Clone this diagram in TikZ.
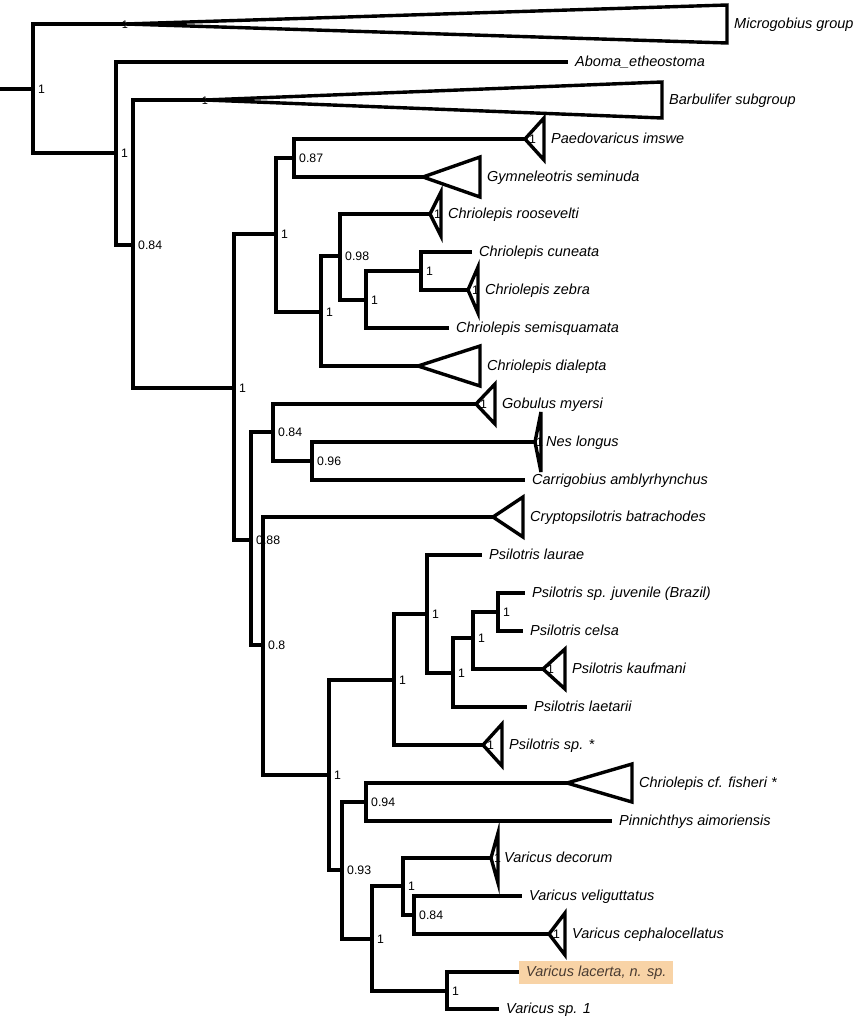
\documentclass[tikz,border=0pt]{standalone}
\usepackage{fontspec}
\setmainfont{Liberation Sans}
\usetikzlibrary{positioning}

\definecolor{lacertabox}{HTML}{F8D3A6}
\definecolor{lacertatext}{HTML}{4A3C32}

\begin{document}
\begin{tikzpicture}[x=1pt,y=-1pt]

            \tikzstyle{branch}=[line width=3.4pt,line join=miter]
            \tikzstyle{clade}=[branch,fill=white]
            \tikzstyle{taxon}=[anchor=west,inner xsep=7pt,inner ysep=0pt,text height=10pt,text depth=1pt,font=\fontsize{14.5}{16}\selectfont\itshape]
            \tikzstyle{support}=[inner sep=0pt,text height=8.8pt,text depth=0pt,font=\fontsize{12.3}{14}\selectfont]
            \tikzstyle{tiny}=[inner sep=0pt,font=\fontsize{4}{4}\selectfont]

            \useasboundingbox (0,0) rectangle (861,1024);

            % internal nodes
            \coordinate (base) at (0,89);
            \coordinate (r)   at (33,89);
            \coordinate (n1)  at (116,153);
            \coordinate (n2)  at (133,245);
            \coordinate (n4)  at (234,388);
            \coordinate (n5)  at (276,234);
            \coordinate (n6)  at (294,158);
            \coordinate (n7)  at (321,312);
            \coordinate (n8)  at (340,256);
            \coordinate (n9)  at (366,300);
            \coordinate (n10) at (421,271);
            \coordinate (n12) at (251,540);
            \coordinate (n13) at (273,432);
            \coordinate (n15) at (312,461);
            \coordinate (n14) at (263,645);
            \coordinate (n16) at (329,775);
            \coordinate (n17) at (394,680);
            \coordinate (n19) at (427,614);
            \coordinate (n20) at (453,673);
            \coordinate (n21) at (473,638);
            \coordinate (n22) at (498,612);
            \coordinate (n18) at (342,870);
            \coordinate (n23) at (366,802);
            \coordinate (n24) at (372,939);
            \coordinate (n25) at (403,886);
            \coordinate (n27) at (414,915);
            \coordinate (n26) at (447,991);

            % apex of collapsed clades
            \coordinate (microtip)  at (125,24);
            \coordinate (barbtip)   at (205,100);
            \coordinate (paedotip)  at (525,139);
            \coordinate (gymnotip)  at (423,177);
            \coordinate (roostip)   at (430,214);
            \coordinate (zebratip)  at (468,290);
            \coordinate (dialtip)   at (418,366);
            \coordinate (gobtip)    at (476,404);
            \coordinate (nestip)    at (535,442);
            \coordinate (cryptip)   at (493,517);
            \coordinate (kauftip)   at (543,669);
            \coordinate (psptip)    at (483,745);
            \coordinate (fishtip)   at (567,783);
            \coordinate (dectip)    at (491,858);
            \coordinate (cephtip)   at (549,934);

            % leaf labels
            \node[taxon] (micro)  at (727,24)  {Microgobius group};
            \node[taxon] (aboma)  at (568,62)  {Aboma\_etheostoma};
            \node[taxon] (barb)   at (662,100) {Barbulifer subgroup};
            \node[taxon] (paedo)  at (544,139) {Paedovaricus imswe};
            \node[taxon] (gymno)  at (480,177) {Gymneleotris seminuda};
            \node[taxon] (roos)   at (441,214) {Chriolepis roosevelti};
            \node[taxon] (cune)   at (472,252) {Chriolepis cuneata};
            \node[taxon] (zebra)  at (478,290) {Chriolepis zebra};
            \node[taxon] (semi)   at (449,328) {Chriolepis semisquamata};
            \node[taxon] (dial)   at (480,366) {Chriolepis dialepta};
            \node[taxon] (gob)    at (495,404) {Gobulus myersi};
            \node[taxon] (nes)    at (539,442) {Nes longus};
            \node[taxon] (carr)   at (525,480) {Carrigobius amblyrhynchus};
            \node[taxon] (cryp)   at (523,517) {Cryptopsilotris batrachodes};
            \node[taxon] (laur)   at (482,555) {Psilotris laurae};
            \node[taxon] (juv)    at (525,593) {Psilotris sp. juvenile (Brazil)};
            \node[taxon] (celsa)  at (523,631) {Psilotris celsa};
            \node[taxon] (kauf)   at (565,669) {Psilotris kaufmani};
            \node[taxon] (laet)   at (527,707) {Psilotris laetarii};
            \node[taxon] (psp)    at (502,745) {Psilotris sp. *};
            \node[taxon] (fish)   at (632,783) {Chriolepis cf. fisheri *};
            \node[taxon] (pinn)   at (612,821) {Pinnichthys aimoriensis};
            \node[taxon] (dec)    at (497,858) {Varicus decorum};
            \node[taxon] (veli)   at (522,896) {Varicus veliguttatus};
            \node[taxon] (ceph)   at (565,934) {Varicus cephalocellatus};
            \node[taxon,inner ysep=6pt,fill=lacertabox,text=lacertatext] (lac) at (519,972) {Varicus lacerta, n. sp.};
            \node[taxon] (vsp)    at (499,1009) {Varicus sp. 1};

            % branches
            \draw[branch] (base) -- (r);
            \draw[branch] (r) |- (microtip);
            \draw[branch] (r) |- (n1);
            \draw[branch] (n1) |- (aboma.west);
            \draw[branch] (n1) |- (n2);
            \draw[branch] (n2) |- (barbtip);
            \draw[branch] (n2) |- (n4);
            \draw[branch] (n4) |- (n5);
            \draw[branch] (n4) |- (n12);
            \draw[branch] (n5) |- (n6);
            \draw[branch] (n5) |- (n7);
            \draw[branch] (n6) |- (paedotip);
            \draw[branch] (n6) |- (gymnotip);
            \draw[branch] (n7) |- (n8);
            \draw[branch] (n7) |- (dialtip);
            \draw[branch] (n8) |- (roostip);
            \draw[branch] (n8) |- (n9);
            \draw[branch] (n9) |- (n10);
            \draw[branch] (n9) |- (semi.west);
            \draw[branch] (n10) |- (cune.west);
            \draw[branch] (n10) |- (zebratip);
            \draw[branch] (n12) |- (n13);
            \draw[branch] (n12) |- (n14);
            \draw[branch] (n13) |- (gobtip);
            \draw[branch] (n13) |- (n15);
            \draw[branch] (n15) |- (nestip);
            \draw[branch] (n15) |- (carr.west);
            \draw[branch] (n14) |- (cryptip);
            \draw[branch] (n14) |- (n16);
            \draw[branch] (n16) |- (n17);
            \draw[branch] (n16) |- (n18);
            \draw[branch] (n17) |- (n19);
            \draw[branch] (n17) |- (psptip);
            \draw[branch] (n19) |- (laur.west);
            \draw[branch] (n19) |- (n20);
            \draw[branch] (n20) |- (n21);
            \draw[branch] (n20) |- (laet.west);
            \draw[branch] (n21) |- (n22);
            \draw[branch] (n21) |- (kauftip);
            \draw[branch] (n22) |- (juv.west);
            \draw[branch] (n22) |- (celsa.west);
            \draw[branch] (n18) |- (n23);
            \draw[branch] (n18) |- (n24);
            \draw[branch] (n23) |- (fishtip);
            \draw[branch] (n23) |- (pinn.west);
            \draw[branch] (n24) |- (n25);
            \draw[branch] (n24) |- (n26);
            \draw[branch] (n25) |- (dectip);
            \draw[branch] (n25) |- (n27);
            \draw[branch] (n27) |- (veli.west);
            \draw[branch] (n27) |- (cephtip);
            \draw[branch] (n26) |- (lac.west);
            \draw[branch] (n26) |- (vsp.west);

            % collapsed clades
            \draw[clade] (microtip) -- ++(602,-19) -- ++(0,38) -- cycle;
            \draw[clade] (barbtip)  -- ++(457,-18) -- ++(0,36) -- cycle;
            \draw[clade] (paedotip) -- ++(19,-21) -- ++(0,42) -- cycle;
            \draw[clade] (gymnotip) -- ++(57,-20) -- ++(0,40) -- cycle;
            \draw[clade] (roostip)  -- ++(11,-22) -- ++(0,44) -- cycle;
            \draw[clade] (zebratip) -- ++(10,-23) -- ++(0,46) -- cycle;
            \draw[clade] (dialtip)  -- ++(62,-20) -- ++(0,40) -- cycle;
            \draw[clade] (gobtip)   -- ++(19,-20) -- ++(0,40) -- cycle;
            \draw[clade] (nestip)   -- ++(6,-30) -- ++(0,60) -- cycle;
            \draw[clade] (cryptip)  -- ++(30,-20) -- ++(0,40) -- cycle;
            \draw[clade] (kauftip)  -- ++(22,-20) -- ++(0,40) -- cycle;
            \draw[clade] (psptip)   -- ++(19,-21) -- ++(0,42) -- cycle;
            \draw[clade] (fishtip)  -- ++(65,-19) -- ++(0,38) -- cycle;
            \draw[clade] (dectip)   -- ++(7,-25) -- ++(0,50) -- cycle;
            \draw[clade] (cephtip)  -- ++(16,-21) -- ++(0,42) -- cycle;

            % support inside clades
            \node[support,font=\fontsize{11}{11}\selectfont] (smicro) at (microtip) {1};
            \node[support,font=\fontsize{11}{11}\selectfont] (sbarb)  at (barbtip)  {1};
            \node[support] (spaedo) [right=4pt of paedotip] {1};
            \node[support] (sroos)  [right=4pt of roostip]  {1};
            \node[support] (szebra) [right=4pt of zebratip] {1};
            \node[support] (sgob)   [right=4pt of gobtip]   {1};
            \node[support] (snes)   [right=1pt of nestip]   {1};
            \node[support] (skauf)  [right=4pt of kauftip]  {1};
            \node[support] (spsp)   [right=4pt of psptip]   {1};
            \node[support] (sdec)   [right=3pt of dectip]   {1};
            \node[support] (sceph)  [right=4pt of cephtip]  {1};
            \node[tiny] (sgymno) [right=2pt of gymnotip] {1};
            \node[tiny] (sdial)  [right=2pt of dialtip]  {1};
            \node[tiny] (scryp)  [right=2pt of cryptip]  {1};
            \node[tiny] (sfish)  [right=2pt of fishtip]  {1};

            % support values
            \node[support] (sr)   [right=5pt of r]   {1};
            \node[support] (s1)   [right=5pt of n1]  {1};
            \node[support] (s2)   [right=5pt of n2]  {0.84};
            \node[support] (s4)   [right=5pt of n4]  {1};
            \node[support] (s5)   [right=5pt of n5]  {1};
            \node[support] (s6)   [right=5pt of n6]  {0.87};
            \node[support] (s7)   [right=5pt of n7]  {1};
            \node[support] (s8)   [right=5pt of n8]  {0.98};
            \node[support] (s9)   [right=5pt of n9]  {1};
            \node[support] (s10)  [right=5pt of n10] {1};
            \node[support] (s12)  [right=5pt of n12] {0.88};
            \node[support] (s13)  [right=5pt of n13] {0.84};
            \node[support] (s15)  [right=5pt of n15] {0.96};
            \node[support] (s14)  [right=5pt of n14] {0.8};
            \node[support] (s16)  [right=5pt of n16] {1};
            \node[support] (s17)  [right=5pt of n17] {1};
            \node[support] (s19)  [right=5pt of n19] {1};
            \node[support] (s20)  [right=5pt of n20] {1};
            \node[support] (s21)  [right=5pt of n21] {1};
            \node[support] (s22)  [right=5pt of n22] {1};
            \node[support] (s18)  [right=5pt of n18] {0.93};
            \node[support] (s23)  [right=5pt of n23] {0.94};
            \node[support] (s24)  [right=5pt of n24] {1};
            \node[support] (s25)  [right=5pt of n25] {1};
            \node[support] (s27)  [right=5pt of n27] {0.84};
            \node[support] (s26)  [right=5pt of n26] {1};
        \end{tikzpicture}
\end{document}
